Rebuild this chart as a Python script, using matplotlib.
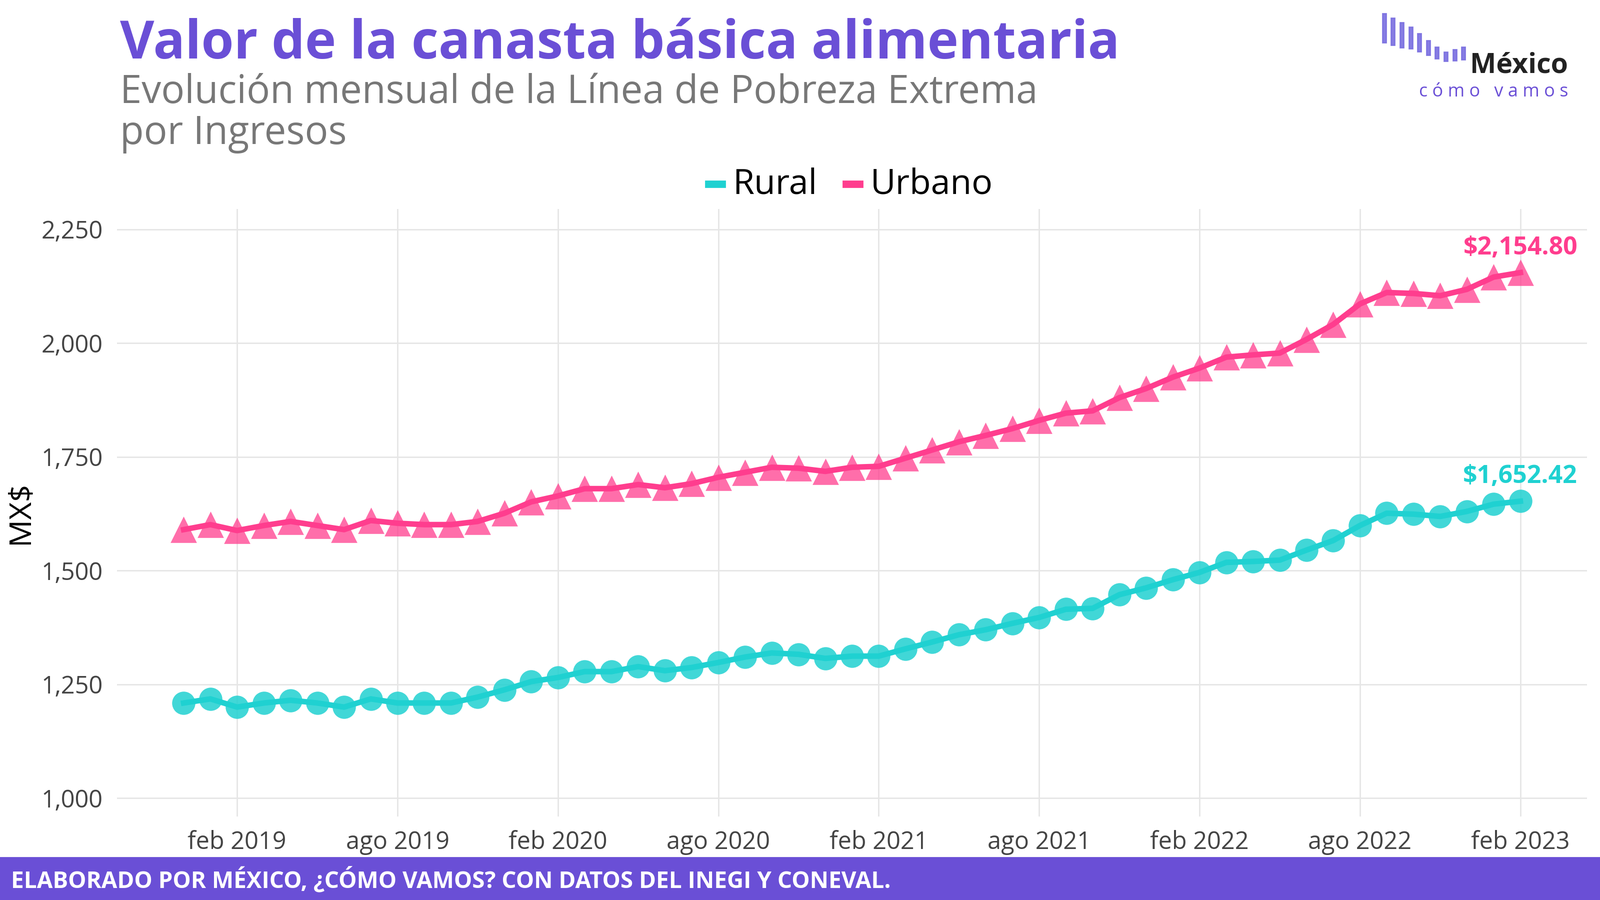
import matplotlib.pyplot as plt
from matplotlib.patches import Rectangle

plt.rcParams['font.family'] = 'Open Sans'

# monthly index 0 = dic 2018 ... 50 = feb 2023
rural = [1209, 1218, 1200, 1209, 1215, 1209, 1200, 1218, 1209, 1209, 1209, 1222,
         1238, 1256, 1265, 1278, 1278, 1289, 1280, 1287, 1298, 1310, 1319, 1316,
         1307, 1312, 1312, 1328, 1343, 1359, 1370, 1384, 1397, 1415, 1417, 1447,
         1462, 1480, 1496, 1518, 1520, 1523, 1545, 1566, 1599, 1626, 1624, 1619,
         1630, 1646, 1652.42]
urbano = [1590, 1601, 1588, 1599, 1608, 1599, 1590, 1610, 1604, 1601, 1601, 1608,
          1626, 1651, 1664, 1680, 1680, 1689, 1682, 1691, 1705, 1716, 1727, 1725,
          1718, 1727, 1729, 1747, 1765, 1783, 1797, 1812, 1830, 1846, 1851, 1880,
          1900, 1925, 1945, 1969, 1974, 1978, 2008, 2041, 2086, 2111, 2109, 2104,
          2118, 2145, 2154.80]
tick_pos = [2, 8, 14, 20, 26, 32, 38, 44, 50]
tick_labels = ['feb 2019', 'ago 2019', 'feb 2020', 'ago 2020', 'feb 2021',
               'ago 2021', 'feb 2022', 'ago 2022', 'feb 2023']

c_rural = '#1fd1d1'
c_urb = '#ff3d8e'
purple = '#6a4fd6'

fig = plt.figure(figsize=(16, 9), dpi=200)
ax = fig.add_axes([0.073, 0.093, 0.919, 0.675])
x = list(range(len(rural)))

ax.plot(x, rural, color=c_rural, lw=4, zorder=3)
ax.scatter(x, rural, s=280, color=c_rural, alpha=0.85, zorder=4, linewidths=0)
ax.plot(x, urbano, color=c_urb, lw=4, zorder=3)
ax.scatter(x, urbano, s=360, marker='^', color=c_urb, alpha=0.75, zorder=4, linewidths=0)

ax.text(50, rural[-1] + 40, '$1,652.42', color=c_rural, fontsize=18, fontweight='bold', ha='center')
ax.text(50, urbano[-1] + 40, '$2,154.80', color=c_urb, fontsize=18, fontweight='bold', ha='center')

ax.set_xlim(-2.5, 52.5)
ax.set_ylim(960, 2295)
ax.set_yticks([1000, 1250, 1500, 1750, 2000, 2250])
ax.set_yticklabels(['1,000', '1,250', '1,500', '1,750', '2,000', '2,250'])
ax.set_xticks(tick_pos)
ax.set_xticklabels(tick_labels)
ax.tick_params(labelsize=17.5, colors='#444444', length=0, pad=10)
ax.grid(True, color='#e6e6e6', lw=1)
for s in ax.spines.values():
    s.set_visible(False)
ax.set_ylabel('MX$', fontsize=22, color='black')

# titles
fig.text(0.075, 0.935, 'Valor de la canasta básica alimentaria', fontsize=38,
         fontweight='bold', color=purple)
fig.text(0.075, 0.84, 'Evolución mensual de la Línea de Pobreza Extrema\npor Ingresos',
         fontsize=28, color='#777777', linespacing=1.05)

# legend
fig.patches.append(Rectangle((0.441, 0.792), 0.012, 0.007, transform=fig.transFigure, color=c_rural))
fig.text(0.458, 0.795, 'Rural', color='black', fontsize=25, va='center')
fig.patches.append(Rectangle((0.527, 0.792), 0.012, 0.007, transform=fig.transFigure, color=c_urb))
fig.text(0.544, 0.795, 'Urbano', color='black', fontsize=25, va='center')

# logo
heights = [0.032, 0.03, 0.028, 0.024, 0.02, 0.016, 0.013, 0.01, 0.012, 0.014]
tops = [0.985, 0.98, 0.975, 0.97, 0.963, 0.955, 0.948, 0.942, 0.945, 0.948]
for i, (h, t) in enumerate(zip(heights, tops)):
    fig.patches.append(Rectangle((0.864 + i * 0.0055, t - h), 0.0022, h,
                                 transform=fig.transFigure, color='#7a6fe0', alpha=0.9))
fig.text(0.98, 0.919, 'México', fontsize=20, fontweight='bold', ha='right', color='#222222')
fig.text(0.98, 0.893, 'c ó m o   v a m o s', fontsize=13, ha='right', color=purple)

# footer
fig.patches.append(Rectangle((0, 0), 1, 0.047, transform=fig.transFigure, color=purple))
fig.text(0.007, 0.022, 'ELABORADO POR MÉXICO, ¿CÓMO VAMOS? CON DATOS DEL INEGI Y CONEVAL.',
         fontsize=16.5, fontweight='bold', color='white', va='center')

fig.savefig('out.png')
